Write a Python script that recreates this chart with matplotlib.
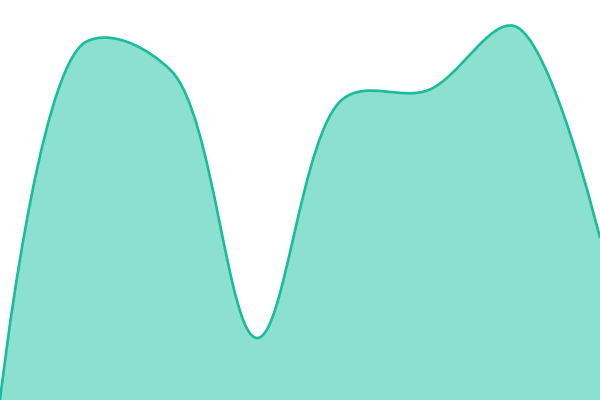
import numpy as np
import matplotlib
matplotlib.use("Agg")
import matplotlib.pyplot as plt
from matplotlib.path import Path
from matplotlib.patches import PathPatch

# values (0 at the bottom edge, 400 at the top)
days = [0, 1, 2, 3, 4, 5, 6, 7]
values = [0, 358, 329, 62, 301, 310, 374, 162]

line_color = "#1abc9c"
fill_color = "#8be0cf"


def catmull_rom(pts, alpha=0.5):
    # centripetal catmull-rom as cubic beziers (same as d3.curveCatmullRom)
    n = len(pts)
    verts = [tuple(pts[0])]
    codes = [Path.MOVETO]

    def d(a, b):
        return np.hypot(*(b - a))

    for i in range(n - 1):
        p1, p2 = pts[i], pts[i + 1]
        p0 = pts[i - 1] if i > 0 else None
        p3 = pts[i + 2] if i + 2 < n else None
        l12 = d(p1, p2) ** alpha
        c1 = p1.copy()
        c2 = p2.copy()
        if p0 is not None:
            l01 = d(p0, p1) ** alpha
            a = 2 * l01 ** 2 + 3 * l01 * l12 + l12 ** 2
            m = 3 * l01 * (l01 + l12)
            c1 = (p1 * a - p0 * l12 ** 2 + p2 * l01 ** 2) / m
        if p3 is not None:
            l23 = d(p2, p3) ** alpha
            b = 2 * l23 ** 2 + 3 * l23 * l12 + l12 ** 2
            m = 3 * l23 * (l23 + l12)
            c2 = (p2 * b + p1 * l23 ** 2 - p3 * l12 ** 2) / m
        verts += [tuple(c1), tuple(c2), tuple(p2)]
        codes += [Path.CURVE4] * 3
    return np.array(verts), codes


fig = plt.figure(figsize=(6, 4), dpi=100)
ax = fig.add_axes([0, 0, 1, 1])
ax.set_xlim(days[0], days[-1])
ax.set_ylim(0, 400)
ax.axis("off")

# build the curve in pixel space, then map back to data space
disp = ax.transData.transform(np.column_stack([days, values]))
vd, codes = catmull_rom(disp)
verts = [tuple(v) for v in ax.transData.inverted().transform(vd)]

area_verts = verts + [(days[-1], 0), (days[0], 0), verts[0]]
area_codes = codes + [Path.LINETO, Path.LINETO, Path.CLOSEPOLY]
ax.add_patch(PathPatch(Path(area_verts, area_codes), facecolor=fill_color,
                       edgecolor="none"))

ax.add_patch(PathPatch(Path(verts, codes), facecolor="none",
                       edgecolor=line_color, linewidth=1.9))

fig.savefig("out.png", dpi=100)
